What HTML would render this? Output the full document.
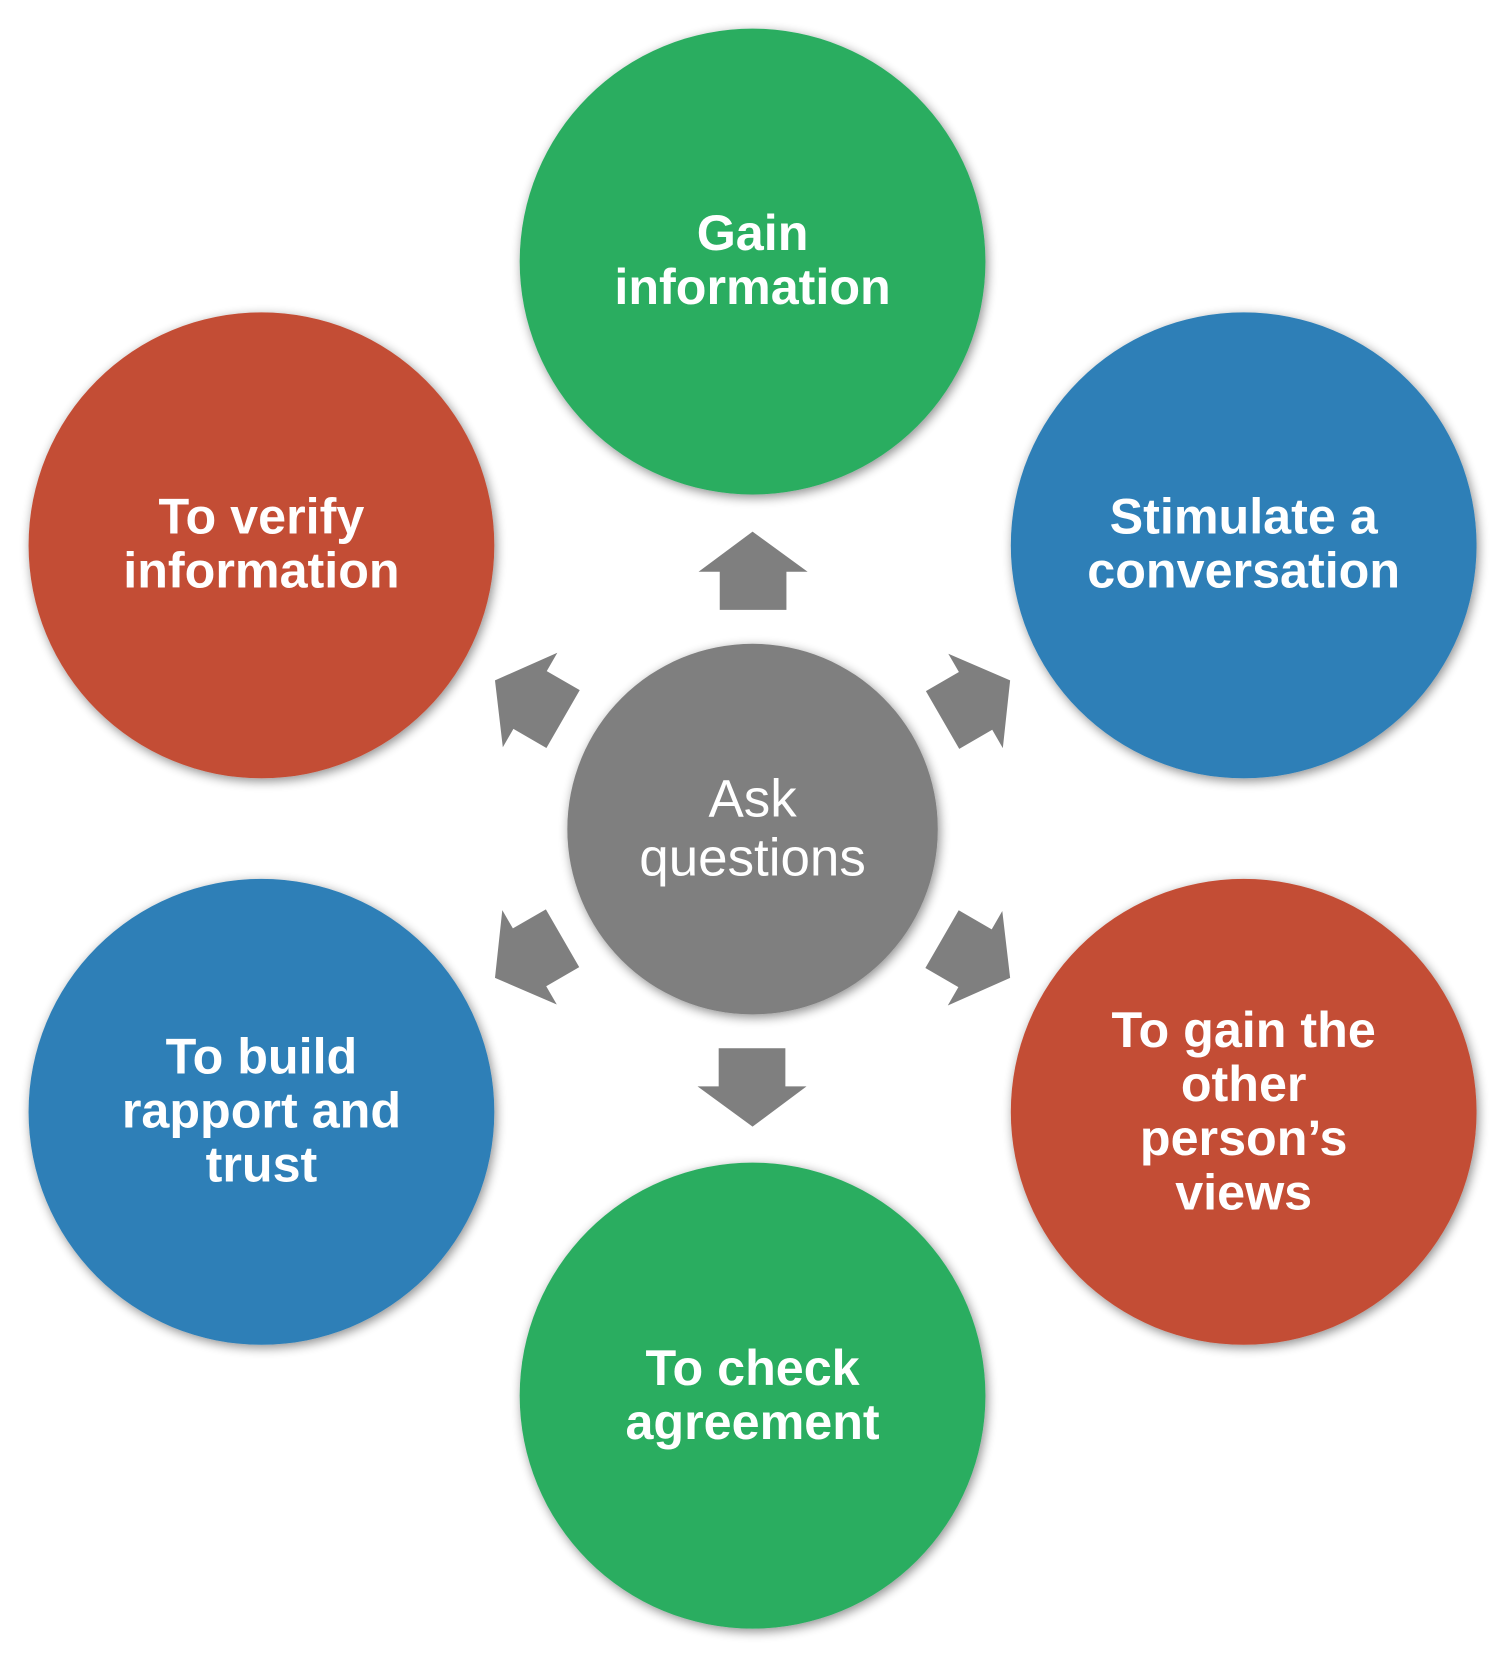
<!DOCTYPE html>
<html><head><style>html,body{margin:0;padding:0;background:#fff}svg{display:block}</style></head><body>
<svg width="1503" height="1654" viewBox="0 0 1420 1562" preserveAspectRatio="none" xmlns="http://www.w3.org/2000/svg">
<defs>
<filter id="s" x="-10%" y="-10%" width="120%" height="120%"><feGaussianBlur in="SourceAlpha" stdDeviation="5"/><feOffset dx="2" dy="3"/><feComponentTransfer><feFuncA type="linear" slope="0.45"/></feComponentTransfer><feMerge><feMergeNode/><feMergeNode in="SourceGraphic"/></feMerge></filter>
<path id="ar" d="M680,576 L680,540 L660,540 L711,502 L763,540 L743,540 L743,576 Z" fill="#7f7f7f"/>
</defs>
<g filter="url(#s)">
<circle cx="711" cy="247" r="220" fill="#29ad61"/>
<circle cx="1175" cy="515" r="220" fill="#2d7fb7"/>
<circle cx="1175" cy="1050" r="220" fill="#c34e36"/>
<circle cx="711" cy="1318" r="220" fill="#29ad61"/>
<circle cx="247" cy="1050" r="220" fill="#2d7fb7"/>
<circle cx="247" cy="515" r="220" fill="#c34e36"/>
<circle cx="711" cy="783" r="175" fill="#7f7f7f"/>
</g>
<use href="#ar"/>
<use href="#ar" transform="rotate(60 711 783)"/>
<use href="#ar" transform="rotate(120 711 783)"/>
<use href="#ar" transform="rotate(180 711 783)"/>
<use href="#ar" transform="rotate(240 711 783)"/>
<use href="#ar" transform="rotate(300 711 783)"/>
<g font-family="Liberation Sans, sans-serif" font-weight="bold" font-size="47.5" fill="#fff" text-anchor="middle">
<text x="711" y="236">Gain</text><text x="711" y="287">information</text>
<text x="1175" y="504">Stimulate a</text><text x="1175" y="555">conversation</text>
<text x="247" y="504">To verify</text><text x="247" y="555">information</text>
<text x="1175" y="989">To gain the</text><text x="1175" y="1040">other</text><text x="1175" y="1091">person’s</text><text x="1175" y="1142">views</text>
<text x="247" y="1014">To build</text><text x="247" y="1065">rapport and</text><text x="247" y="1116">trust</text>
<text x="711" y="1308">To check</text><text x="711" y="1359">agreement</text>
</g>
<g font-family="Liberation Sans, sans-serif" font-size="50" fill="#fff" text-anchor="middle">
<text x="711" y="771">Ask</text><text x="711" y="827">questions</text>
</g>
</svg>
</body></html>
